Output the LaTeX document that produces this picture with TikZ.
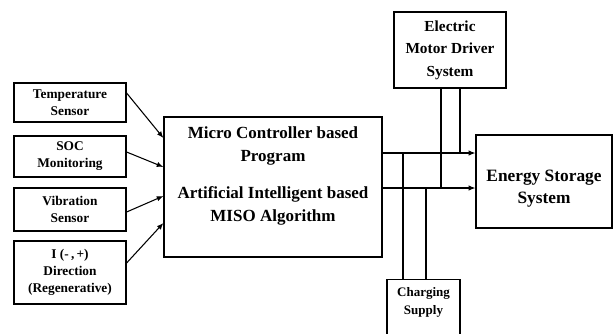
\documentclass[tikz,border=0pt]{standalone}
\usepackage{fontspec}
\setmainfont{Liberation Serif}
\usepackage{tikz}
\usetikzlibrary{
    arrows.meta,
    calc
}

\tikzset{
    blk/.style={draw, line width=0.9pt, inner sep=0pt, align=center, font=\bfseries},
    sensorbox/.style={blk, minimum width=84pt, font=\fontsize{10}{12.75}\selectfont\bfseries},
    arr/.style={-{Latex[length=5pt,width=4pt]}, line width=0.8pt},
    bus/.style={line width=0.8pt}
}

\begin{document}
\begin{tikzpicture}[x=0.75pt,y=-0.75pt]

% Frame of the picture
\clip (0,0) rectangle (613,333);

% Sensor inputs
\node[sensorbox, minimum height=29.25pt] (temp) at (70,102.5) {Temperature\\Sensor};
\node[sensorbox, minimum height=30.75pt] (soc) at (70,156.5) {SOC\\Monitoring};
\node[sensorbox, minimum height=32.25pt] (vib) at (70,209.5) {Vibration\\Sensor};
\node[sensorbox, minimum height=47.25pt] (idir) at (70,272.5) {I (-\,,\,+)\\Direction\\(Regenerative)};

% Controller
\node[blk, minimum width=163.5pt, minimum height=105pt] (main) at (273,187) {};
\node[font=\fontsize{12.75}{17}\selectfont\bfseries, align=center] (maintext) at ($(main.center)+(0,-11)$)
    {Micro Controller based\\Program\\[11pt]Artificial Intelligent based\\MISO Algorithm};

% Motor driver, storage and charger
\node[blk, minimum width=84pt, minimum height=57pt, font=\fontsize{11.5}{17}\selectfont\bfseries] (motor) at (450,50)
    {Electric\\Motor Driver\\System};
\node[blk, minimum width=102pt, minimum height=69.75pt] (energy) at (544,181.5) {};
\node[font=\fontsize{13}{17}\selectfont\bfseries, align=center] (energytext) at ($(energy.center)+(0,7)$)
    {Energy Storage\\System};
\node[blk, minimum width=54.75pt, minimum height=46.5pt, anchor=north] (charge) at (423.5,279) {};
\node[font=\fontsize{9.75}{14}\selectfont\bfseries, align=center] (chargetext) at ($(charge.north)+(0,23.5)$)
    {Charging\\Supply};

% Sensor arrows
\draw[arr] ($(temp.east)+(0,-9.5)$) -- ($(main.west)+(0,-49)$);
\draw[arr] ($(soc.east)+(0,-4.5)$) -- ($(main.west)+(0,-20)$);
\draw[arr] ($(vib.east)+(0,2.5)$) -- ($(main.west)+(0,9)$);
\draw[arr] ($(idir.east)+(0,-9.5)$) -- ($(main.west)+(0,36)$);

% Bus junctions
\coordinate (c1) at (403,153);
\coordinate (c2) at (426,188);
\coordinate (e1) at (460,153);
\coordinate (e2) at (441,188);

% Outputs to storage
\draw[arr] (main.east |- c1) -- (energy.west |- c1);
\draw[arr] (main.east |- c2) -- (energy.west |- c2);

% Motor driver taps
\draw[bus] (e1 |- motor.south) -- (e1);
\draw[bus] (e2 |- motor.south) -- (e2);

% Charging supply taps
\draw[bus] (c1) -- (c1 |- charge.north);
\draw[bus] (c2) -- (c2 |- charge.north);

\end{tikzpicture}
\end{document}
